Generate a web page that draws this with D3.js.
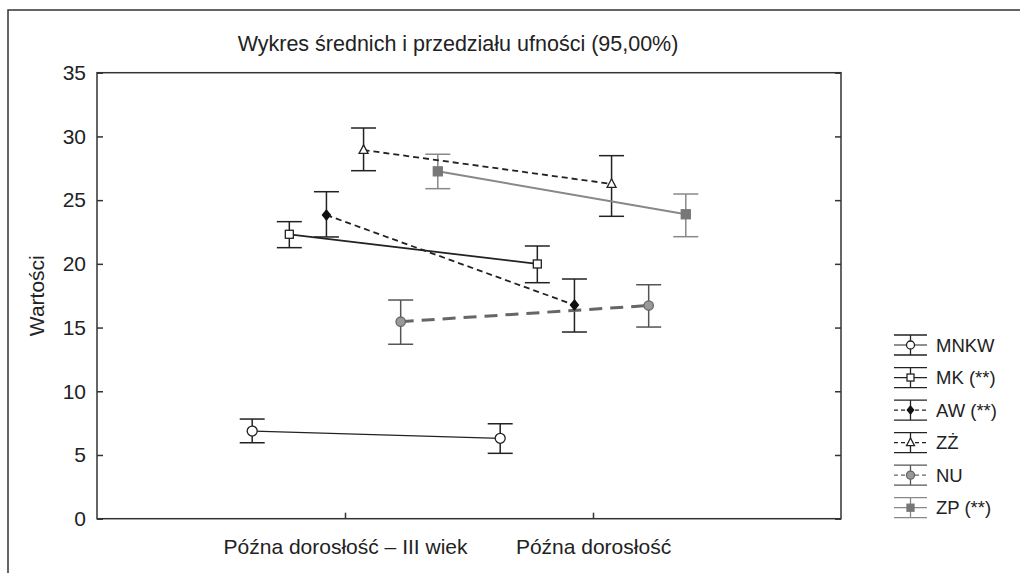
<!DOCTYPE html>
<html>
<head>
<meta charset="utf-8">
<script src="https://cdn.jsdelivr.net/npm/d3@7"></script>
<style>
  html, body { margin: 0; padding: 0; background: #fff; }
  svg { display: block; font-family: "Liberation Sans", Arial, sans-serif; }
</style>
</head>
<body>
<svg id="chart" width="1020" height="573"></svg>
<script>
// ---- data ----
const categories = ["Późna dorosłość – III wiek", "Późna dorosłość"];
const seriesNames = ["MNKW", "MK (**)", "AW (**)", "ZŻ", "NU", "ZP (**)"];
const means = [
  [6.88, 6.31],
  [22.32, 19.99],
  [23.83, 16.77],
  [28.93, 26.27],
  [15.46, 16.73],
  [27.26, 23.89]
];
const lower = [
  [5.96, 5.13],
  [21.27, 18.52],
  [22.11, 14.65],
  [27.31, 23.73],
  [13.69, 15.04],
  [25.90, 22.13]
];
const upper = [
  [7.82, 7.45],
  [23.31, 21.40],
  [25.66, 18.81],
  [30.66, 28.49],
  [17.16, 18.36],
  [28.60, 25.48]
];
const yTicks = [0, 5, 10, 15, 20, 25, 30, 35];
const titleText = "Wykres średnich i przedziału ufności (95,00%)";
const yLabel = "Wartości";

// ---- styles ----
const styles = [
  { line: "#222", lw: 1.2, dash: null, bar: "#222", shape: "circle", fill: "#fff", stroke: "#222", size: 5 },
  { line: "#222", lw: 1.8, dash: null, bar: "#222", shape: "square", fill: "#fff", stroke: "#222", size: 8 },
  { line: "#222", lw: 1.8, dash: "6,4", bar: "#222", shape: "diamond", fill: "#111", stroke: "#111", size: 5 },
  { line: "#222", lw: 1.8, dash: "6,4", bar: "#222", shape: "triangle", fill: "#fff", stroke: "#222", size: 9 },
  { line: "#666", lw: 3, dash: "13,8", bar: "#555", shape: "circle", fill: "#999", stroke: "#666", size: 4.7 },
  { line: "#888", lw: 2, dash: null, bar: "#888", shape: "square", fill: "#777", stroke: "#777", size: 9 }
];

const svg = d3.select("#chart");
const W = 1020, H = 573;
const plot = { left: 97, right: 841, top: 72.7, bottom: 518.7 };
const fontSize = 21;

// outer frame (left & top visible)
svg.append("path")
  .attr("d", `M8,${H} L8,10 L${W},10`)
  .attr("fill", "none").attr("stroke", "#333").attr("stroke-width", 1.5);

const x = d3.scalePoint().domain(categories).range([plot.left, plot.right]).padding(1);
const off = d3.scalePoint().domain(seriesNames).range([-92.8, 92.8]);
const y = d3.scaleLinear().domain([0, 35]).range([plot.bottom, plot.top]);

// plot frame
svg.append("rect")
  .attr("x", plot.left).attr("y", plot.top)
  .attr("width", plot.right - plot.left).attr("height", plot.bottom - plot.top)
  .attr("fill", "none").attr("stroke", "#333").attr("stroke-width", 1.5);

// axes
const yAxis = svg.append("g").attr("transform", `translate(${plot.left},0)`)
  .call(d3.axisLeft(y).tickValues(yTicks).tickSizeInner(-6).tickSizeOuter(0).tickPadding(11));
const yAxisR = svg.append("g").attr("transform", `translate(${plot.right},0)`)
  .call(d3.axisRight(y).tickValues(yTicks).tickSizeInner(-6).tickSizeOuter(0).tickFormat(""));
const xAxis = svg.append("g").attr("transform", `translate(0,${plot.bottom})`)
  .call(d3.axisBottom(x).tickSizeInner(-6).tickSizeOuter(0).tickPadding(20));

[yAxis, yAxisR, xAxis].forEach(g => {
  g.select(".domain").remove();
  g.selectAll(".tick line").attr("stroke", "#333").attr("stroke-width", 1.5);
  g.selectAll(".tick text").attr("fill", "#222").style("font-size", fontSize + "px")
    .style("font-family", '"Liberation Sans", Arial, sans-serif');
});

// title
svg.append("text")
  .attr("x", 458).attr("y", 51)
  .attr("text-anchor", "middle")
  .style("font-size", "21.5px").attr("fill", "#222")
  .text(titleText);

// y label
svg.append("text")
  .attr("transform", `translate(44,${(plot.top + plot.bottom) / 2}) rotate(-90)`)
  .attr("text-anchor", "middle")
  .style("font-size", fontSize + "px").attr("fill", "#222")
  .text(yLabel);

// marker drawing
function marker(g, st, cx, cy) {
  const s = st.size;
  let el;
  if (st.shape === "circle") {
    el = g.append("circle").attr("cx", cx).attr("cy", cy).attr("r", s);
  } else if (st.shape === "square") {
    el = g.append("rect").attr("x", cx - s / 2).attr("y", cy - s / 2).attr("width", s).attr("height", s);
  } else if (st.shape === "diamond") {
    el = g.append("path").attr("d", `M${cx},${cy - s} L${cx + s * 0.8},${cy} L${cx},${cy + s} L${cx - s * 0.8},${cy} Z`);
  } else {
    const h = s * 0.95;
    el = g.append("path").attr("d", `M${cx},${cy - h * 0.6} L${cx + s / 2},${cy + h * 0.4} L${cx - s / 2},${cy + h * 0.4} Z`);
  }
  el.attr("fill", st.fill).attr("stroke", st.stroke).attr("stroke-width", 1.3);
}

const capW = 12.5;
const series = seriesNames.map((name, i) => ({
  name, st: styles[i],
  pts: categories.map((c, j) => ({ cx: x(c) + off(name), m: means[i][j], lo: lower[i][j], hi: upper[i][j] }))
}));

// error bars
series.forEach(s => {
  const g = svg.append("g");
  s.pts.forEach(p => {
    g.append("line").attr("x1", p.cx).attr("x2", p.cx).attr("y1", y(p.lo)).attr("y2", y(p.hi))
      .attr("stroke", s.st.bar).attr("stroke-width", 1.5);
    [p.lo, p.hi].forEach(v => {
      g.append("line").attr("x1", p.cx - capW).attr("x2", p.cx + capW).attr("y1", y(v)).attr("y2", y(v))
        .attr("stroke", s.st.bar).attr("stroke-width", 1.5);
    });
  });
});

// lines
const lineGen = d3.line().x(p => p.cx).y(p => y(p.m));
series.forEach(s => {
  svg.append("path").attr("d", lineGen(s.pts))
    .attr("fill", "none").attr("stroke", s.st.line).attr("stroke-width", s.st.lw)
    .attr("stroke-dasharray", s.st.dash);
});

// markers
series.forEach(s => {
  const g = svg.append("g");
  s.pts.forEach(p => marker(g, s.st, p.cx, y(p.m)));
});

// legend
const legY = d3.scalePoint().domain(seriesNames).range([345, 507.7]);
const lx0 = 894, lx1 = 927, lxc = (lx0 + lx1) / 2;
series.forEach(s => {
  const cy = legY(s.name);
  const g = svg.append("g");
  [cy - 10, cy + 10].forEach(yy => {
    g.append("line").attr("x1", lx0).attr("x2", lx1).attr("y1", yy).attr("y2", yy)
      .attr("stroke", s.st.bar).attr("stroke-width", 1.3);
  });
  g.append("line").attr("x1", lxc).attr("x2", lxc).attr("y1", cy - 10).attr("y2", cy + 10)
    .attr("stroke", s.st.bar).attr("stroke-width", 1.3);
  g.append("line").attr("x1", lx0).attr("x2", lx1).attr("y1", cy).attr("y2", cy)
    .attr("stroke", s.st.line).attr("stroke-width", Math.min(s.st.lw, 1.3))
    .attr("stroke-dasharray", s.st.dash ? "4,3" : null);
  const small = Object.assign({}, s.st, {
    size: s.st.shape === "circle" ? 4 : (s.st.shape === "diamond" ? 4 : (s.st.shape === "triangle" ? 8 : 7))
  });
  marker(g, small, lxc, cy);
  g.append("text").attr("x", 936).attr("y", cy).attr("dy", "0.36em")
    .style("font-size", "18.5px").attr("fill", "#222").text(s.name);
});
</script>
</body>
</html>
